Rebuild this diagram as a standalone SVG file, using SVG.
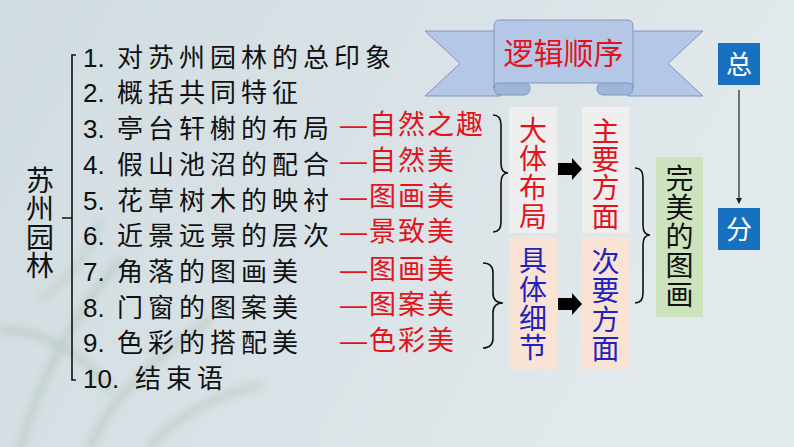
<svg xmlns="http://www.w3.org/2000/svg" width="794" height="447" viewBox="0 0 794 447">
  <defs>
    <linearGradient id="bg" x1="0" y1="0" x2="1" y2="0.3">
      <stop offset="0" stop-color="#d1dce1"/>
      <stop offset="0.6" stop-color="#dae3e7"/>
      <stop offset="1" stop-color="#e3eaed"/>
    </linearGradient>
    <filter id="soft" x="-20%" y="-20%" width="140%" height="140%">
      <feGaussianBlur stdDeviation="4"/>
    </filter>
    <marker id="arr" markerWidth="6" markerHeight="6" refX="5" refY="3" orient="auto" markerUnits="userSpaceOnUse">
      <path d="M0,0 L6,3 L0,6 Z" fill="#222"/>
    </marker>
    <style>
      .item { font-family: "Liberation Sans", "Noto Sans CJK SC", sans-serif; font-size: 26px; fill: #111; }
      .cn { letter-spacing: 5px; font-family: "Noto Sans CJK SC", sans-serif; }
      .red { font-family: "Liberation Sans", "Noto Sans CJK SC", sans-serif; font-size: 27px; fill: #e3131b; letter-spacing: 2px; }
      .vt { font-family: "Noto Sans CJK SC", sans-serif; font-size: 28px; }
      .vert { writing-mode: vertical-rl; text-orientation: upright; }
      .mid { text-anchor: middle; }
      .r { fill: #e3131b; }
      .b { fill: #2222bb; }
      .k { fill: #111; }
      .w { fill: #ffffff; font-size: 26px; }
      .brace { fill: none; stroke: #111; stroke-width: 1.6; }
      .rib { fill: #b4c7e7; stroke: #7f97bd; stroke-width: 1; }
      .curl { fill: #9fb6dc; stroke: #7f97bd; stroke-width: 1; }
      .gray { fill: #efefef; }
      .peach { fill: #f9e3d5; }
      .green { fill: #cde3bd; }
      .blue { fill: #1770c0; }
    </style>
  </defs>

  <rect x="0" y="0" width="794" height="447" fill="url(#bg)"/>
  <g id="plant" filter="url(#soft)" opacity="0.35" fill="none" stroke="#8fa58a" stroke-width="6" stroke-linecap="round">
    <path d="M20,447 C40,380 70,320 120,260"/>
    <path d="M90,447 C110,400 150,360 210,320"/>
    <path d="M0,330 C40,330 80,350 110,390"/>
    <path d="M150,447 C180,410 220,395 260,385"/>
    <path d="M40,300 C70,280 90,250 100,220" stroke-width="4"/>
  </g>

  <g id="connectors">
    <path class="brace" d="M76,55 L72,55 L72,380 L76,380 M72,218 L62,218"/>
    <path class="brace" d="M493,115 Q501,115 501,125 L501,163 Q501,173 508,173 Q501,173 501,183 L501,222 Q501,232 493,232"/>
    <path class="brace" d="M483,263 Q493,263 493,273 L493,293 Q493,303 503,303 Q493,303 493,313 L493,338 Q493,348 483,348"/>
    <path class="brace" d="M635,168 Q643,168 643,178 L643,225 Q643,235 650,235 Q643,235 643,245 L643,293 Q643,303 635,303"/>
    <path d="M558,163 L572,163 L572,158 L582,169 L572,180 L572,175 L558,175 Z" fill="#000"/>
    <path d="M558,298 L572,298 L572,293 L582,304 L572,315 L572,310 L558,310 Z" fill="#000"/>
    <line x1="739" y1="90" x2="739" y2="203" stroke="#222" stroke-width="1.2" marker-end="url(#arr)"/>
  </g>

  <g id="root">
    <text class="vt vert k" x="40" y="166" style="letter-spacing:0.5px">苏州园林</text>
  </g>

  <g id="items">
    <text class="item" x="83" y="66.5">1.<tspan class="cn" x="117">对苏州园林的总印象</tspan></text>
    <text class="item" x="83" y="102">2.<tspan class="cn" x="117">概括共同特征</tspan></text>
    <text class="item" x="83" y="138">3.<tspan class="cn" x="117">亭台轩榭的布局</tspan></text>
    <text class="item" x="83" y="173.5">4.<tspan class="cn" x="117">假山池沼的配合</tspan></text>
    <text class="item" x="83" y="209.5">5.<tspan class="cn" x="117">花草树木的映衬</tspan></text>
    <text class="item" x="83" y="245">6.<tspan class="cn" x="117">近景远景的层次</tspan></text>
    <text class="item" x="83" y="281">7.<tspan class="cn" x="117">角落的图画美</tspan></text>
    <text class="item" x="83" y="316.5">8.<tspan class="cn" x="117">门窗的图案美</tspan></text>
    <text class="item" x="83" y="352">9.<tspan class="cn" x="117">色彩的搭配美</tspan></text>
    <text class="item" x="83" y="388">10.<tspan class="cn" x="135">结束语</tspan></text>
  </g>

  <g id="notes">
    <text class="red" x="340" y="134">—自然之趣</text>
    <text class="red" x="340" y="170">—自然美</text>
    <text class="red" x="340" y="205.5">—图画美</text>
    <text class="red" x="340" y="240.5">—景致美</text>
    <text class="red" x="340" y="279">—图画美</text>
    <text class="red" x="340" y="314">—图案美</text>
    <text class="red" x="340" y="350">—色彩美</text>
  </g>

  <g id="banner">
    <path class="rib" d="M425,31 L500,31 L500,96 L425,96 L460,63.5 Z"/>
    <path class="rib" d="M628,31 L703,31 L668,63.5 L703,96 L628,96 Z"/>
    <rect class="curl" x="494" y="82" width="36" height="13" rx="6"/>
    <rect class="curl" x="597" y="82" width="36" height="13" rx="6"/>
    <path class="rib" d="M494,26 Q494,20 500,20 L627,20 Q633,20 633,26 L633,88 Q633,83 628,83 L499,83 Q494,83 494,88 Z"/>
    <text class="vt mid r" x="563.5" y="64.4" style="font-size:30px">逻辑顺序</text>
  </g>

  <g id="dati">
    <rect class="gray" x="509" y="107" width="48" height="126"/>
    <text class="vt vert r" x="533" y="116" style="letter-spacing:0.7px">大体布局</text>
  </g>
  <g id="zhuyao">
    <rect class="gray" x="582" y="107" width="47" height="126"/>
    <text class="vt vert r" x="605.5" y="117" style="letter-spacing:0.3px">主要方面</text>
  </g>
  <g id="juti">
    <rect class="peach" x="509" y="238" width="48" height="132"/>
    <text class="vt vert b" x="533" y="246" style="letter-spacing:1px">具体细节</text>
  </g>
  <g id="ciyao">
    <rect class="peach" x="582" y="238" width="47" height="132"/>
    <text class="vt vert b" x="605.5" y="247" style="letter-spacing:1px">次要方面</text>
  </g>
  <g id="wanmei">
    <rect class="green" x="656" y="157" width="47" height="160"/>
    <text class="vt vert k" x="679.5" y="164" style="letter-spacing:1px">完美的图画</text>
  </g>
  <g id="zong">
    <rect class="blue" x="718" y="43" width="42" height="42"/>
    <text class="vt mid w" x="739" y="74">总</text>
  </g>
  <g id="fen">
    <rect class="blue" x="718" y="208" width="42" height="42"/>
    <text class="vt mid w" x="739" y="239">分</text>
  </g>
</svg>
